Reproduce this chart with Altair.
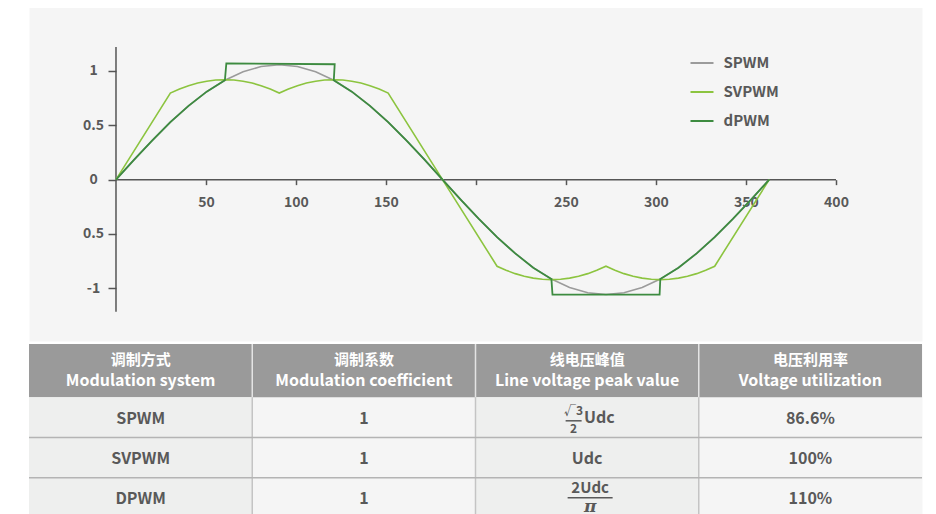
import altair as alt
import pandas as pd

FONT = "Noto Sans CJK SC"
TXT = "#595959"

# ---------------- waveform data ----------------
SERIES = ["SPWM", "SVPWM", "dPWM"]
SERIES_COLORS = ["#9b9b9b", "#8cc43f", "#3d8b40"]

SPWM_X = [0.0, 10.1, 20.2, 30.2, 40.3, 50.4, 60.5, 70.6, 80.6, 90.7, 100.8, 110.9,
          121.0, 131.0, 141.1, 151.2, 161.3, 171.4, 181.4, 191.5, 201.6, 211.7,
          221.8, 231.8, 241.9, 252.0, 262.1, 272.2, 282.2, 292.3, 302.4, 312.5,
          322.6, 332.6, 342.7, 352.8, 362.9]
SPWM_Y = [0.0, 0.184, 0.362, 0.529, 0.679, 0.810, 0.915, 0.993, 1.041, 1.057, 1.041, 0.993,
          0.915, 0.810, 0.679, 0.529, 0.362, 0.184, 0.0, -0.184, -0.362, -0.529,
          -0.679, -0.810, -0.915, -0.993, -1.041, -1.057, -1.041, -0.993, -0.915, -0.810,
          -0.679, -0.529, -0.362, -0.184, 0.0]

SVPWM_X = [0.0, 30.2, 35.3, 40.3, 45.4, 50.4, 55.4, 60.5, 65.5, 70.6, 75.6, 80.6, 85.7,
           90.7, 95.8, 100.8, 105.8, 110.9, 115.9, 121.0, 126.0, 131.0, 136.1, 141.1,
           146.2, 151.2, 181.4,
           211.7, 216.7, 221.8, 226.8, 231.8, 236.9, 241.9, 247.0, 252.0, 257.0, 262.1,
           267.1, 272.2, 277.2, 282.2, 287.3, 292.3, 297.4, 302.4, 307.4, 312.5, 317.5,
           322.6, 327.6, 332.6, 362.9]
SVPWM_Y = [0.0, 0.797, 0.834, 0.865, 0.889, 0.906, 0.917, 0.920, 0.917, 0.906, 0.889, 0.865, 0.834,
           0.797, 0.834, 0.865, 0.889, 0.906, 0.917, 0.920, 0.917, 0.906, 0.889, 0.865,
           0.834, 0.797, 0.0,
           -0.797, -0.834, -0.865, -0.889, -0.906, -0.917, -0.920, -0.917, -0.906, -0.889, -0.865,
           -0.834, -0.797, -0.834, -0.865, -0.889, -0.906, -0.917, -0.920, -0.917, -0.906, -0.889,
           -0.865, -0.834, -0.797, 0.0]

DPWM_X = [0.0, 10.1, 20.2, 30.2, 40.3, 50.4, 60.5, 61.3, 121.5, 121.0, 131.0, 141.1,
          151.2, 161.3, 171.4, 181.4, 191.5, 201.6, 211.7, 221.8, 231.8, 241.9,
          242.5, 302.0, 302.4, 312.5, 322.6, 332.6, 342.7, 352.8, 362.9]
DPWM_Y = [0.0, 0.184, 0.362, 0.529, 0.679, 0.810, 0.915, 1.070, 1.062, 0.915, 0.810, 0.679,
          0.529, 0.362, 0.184, 0.0, -0.184, -0.362, -0.529, -0.679, -0.810, -0.915,
          -1.059, -1.059, -0.915, -0.810, -0.679, -0.529, -0.362, -0.184, 0.0]

X_TICKS = [50, 100, 150, 200, 250, 300, 350, 400]
X_TICK_LABELS = ["50", "100", "150", "", "250", "300", "350", "400"]
Y_TICKS = [-1, -0.5, 0, 0.5, 1]
Y_TICK_LABELS = ["-1", "0.5", "0", "0.5", "1"]

# ---------------- table data ----------------
HEAD_CN = ["调制方式", "调制系数", "线电压峰值", "电压利用率"]
HEAD_EN = ["Modulation system", "Modulation coefficient", "Line voltage peak value", "Voltage utilization"]
ROW_METHOD = ["SPWM", "SVPWM", "DPWM"]
ROW_COEF = ["1", "1", "1"]
ROW_PEAK_PLAIN = ["", "Udc", ""]
ROW_UTIL = ["86.6%", "100%", "110%"]
FRAC1 = {"num": "√3", "den": "2", "tail": "Udc"}
FRAC3 = {"num": "2Udc", "den": "π"}


def label_expr(values, labels):
    expr = "''"
    for v, lab in zip(values, labels):
        expr = f"datum.value == {v} ? '{lab}' : ({expr})"
    return expr


# ---------------- build frames ----------------
recs = []
for name, xs, ys in zip(SERIES, [SPWM_X, SVPWM_X, DPWM_X], [SPWM_Y, SVPWM_Y, DPWM_Y]):
    for i, (xv, yv) in enumerate(zip(xs, ys)):
        recs.append({"series": name, "x": xv, "y": yv, "i": i})
wave = pd.DataFrame(recs)

xscale = alt.Scale(domain=[-48.33, 447.78], nice=False, zero=False)
yscale = alt.Scale(domain=[-1.485, 1.589], nice=False, zero=False)

xaxis = alt.Axis(values=X_TICKS, title=None, grid=False, domain=False, offset=-161.35,
                 tickSize=5, tickWidth=1.5, tickColor="#555555",
                 labelExpr=label_expr(X_TICKS, X_TICK_LABELS),
                 labelFont=FONT, labelFontSize=14, labelFontWeight="bold", labelColor=TXT,
                 labelPadding=11)
yaxis = alt.Axis(values=Y_TICKS, title=None, grid=False, domain=False, offset=-87,
                 tickSize=8, tickWidth=1.5, tickColor="#555555",
                 labelExpr=label_expr(Y_TICKS, Y_TICK_LABELS),
                 labelAlign="center", labelBaseline="middle", labelPadding=15,
                 labelFont=FONT, labelFontSize=14, labelFontWeight="bold", labelColor=TXT)

legend = alt.Legend(orient="none", legendX=660.5, legendY=43.5, symbolType="stroke",
                    symbolSize=529, symbolStrokeWidth=2, labelFont=FONT, labelFontSize=15,
                    labelFontWeight="bold", labelColor=TXT, labelOffset=9, rowPadding=8,
                    padding=0)

base = alt.Chart(wave).encode(
    x=alt.X("x:Q", scale=xscale, axis=xaxis),
    y=alt.Y("y:Q", scale=yscale, axis=yaxis),
    color=alt.Color("series:N", scale=alt.Scale(domain=SERIES, range=SERIES_COLORS),
                    legend=legend, title=None),
    order="i:Q",
)
line_layers = [
    base.mark_line(strokeWidth=w).transform_filter(alt.datum.series == s)
    for s, w in zip(SERIES, [1.6, 1.6, 1.8])
]

xline = alt.Chart(pd.DataFrame({"x": [0], "x2": [400], "y": [0]})).mark_rule(
    color="#555555", strokeWidth=1.5).encode(
    x=alt.X("x:Q", scale=xscale, axis=xaxis), x2="x2:Q",
    y=alt.Y("y:Q", scale=yscale, axis=yaxis))
yline = alt.Chart(pd.DataFrame({"x": [0], "y": [-1.215], "y2": [1.221]})).mark_rule(
    color="#555555", strokeWidth=1.5).encode(
    x=alt.X("x:Q", scale=xscale, axis=xaxis),
    y=alt.Y("y:Q", scale=yscale, axis=yaxis), y2="y2:Q")

top = alt.layer(xline, yline, *line_layers).properties(width=893, height=334)

# ---------------- table ----------------
HEAD_H = 1.32
tx = alt.Scale(domain=[0, 4], nice=False, zero=False)
ty = alt.Scale(domain=[0, 4.32], nice=False, zero=False, reverse=True)

head = pd.DataFrame({"l": [0, 1, 2, 3], "r": [1, 2, 3, 4], "t": [0] * 4, "b": [HEAD_H] * 4,
                     "cx": [0.5, 1.5, 2.5, 3.5], "cy": [HEAD_H / 2] * 4,
                     "cn": HEAD_CN, "en": HEAD_EN})
body_recs = []
for r in range(3):
    for c, txt in enumerate([ROW_METHOD[r], ROW_COEF[r], ROW_PEAK_PLAIN[r], ROW_UTIL[r]]):
        body_recs.append({"cx": c + 0.5, "cy": HEAD_H + r + 0.5, "txt": txt})
body = pd.DataFrame(body_recs)


def X(f):
    return alt.X(f, scale=tx, axis=None)


def Y(f):
    return alt.Y(f, scale=ty, axis=None)


head_rect = alt.Chart(head).mark_rect(color="#9a9a9a").encode(
    x=X("l:Q"), x2="r:Q", y=Y("t:Q"), y2="b:Q")
shade = alt.Chart(pd.DataFrame({"l": [0, 2], "r": [1, 3], "t": [HEAD_H] * 2, "b": [HEAD_H + 3] * 2})
                  ).mark_rect(color="#eeefee").encode(x=X("l:Q"), x2="r:Q", y=Y("t:Q"), y2="b:Q")

vsep_head = alt.Chart(pd.DataFrame({"x": [1, 2, 3], "t": [0] * 3, "b": [HEAD_H] * 3})).mark_rule(
    color="#e4e4e4", strokeWidth=1.5).encode(x=X("x:Q"), y=Y("t:Q"), y2="b:Q")
vsep_body = alt.Chart(pd.DataFrame({"x": [1, 2, 3], "t": [HEAD_H] * 3, "b": [HEAD_H + 3] * 3})).mark_rule(
    color="#c4c4c4", strokeWidth=1.5).encode(x=X("x:Q"), y=Y("t:Q"), y2="b:Q")
hsep = alt.Chart(pd.DataFrame({"l": [0, 0], "r": [4, 4], "y": [HEAD_H + 1, HEAD_H + 2]})).mark_rule(
    color="#b4b4b4", strokeWidth=1.5).encode(x=X("l:Q"), x2="r:Q", y=Y("y:Q"))

head_cn = alt.Chart(head).mark_text(font=FONT, fontSize=15, fontWeight="bold", color="white",
                                    baseline="middle", dy=-10.5).encode(
    x=X("cx:Q"), y=Y("cy:Q"), text="cn:N")
head_en = alt.Chart(head).mark_text(font=FONT, fontSize=16, fontWeight="bold", color="white",
                                    baseline="middle", dy=10.5).encode(
    x=X("cx:Q"), y=Y("cy:Q"), text="en:N")
body_txt = alt.Chart(body).mark_text(font=FONT, fontSize=16, fontWeight="bold", color=TXT,
                                     baseline="middle", dy=1.5).encode(
    x=X("cx:Q"), y=Y("cy:Q"), text="txt:N")

f1 = pd.DataFrame({"cx": [2.5], "cy": [HEAD_H + 0.5], "num": [FRAC1["num"]],
                   "den": [FRAC1["den"]], "tail": [FRAC1["tail"]]})
f1_num = alt.Chart(f1).mark_text(font=FONT, fontSize=12, fontWeight="bold", color=TXT,
                                 baseline="middle", dx=-13.5, dy=-6).encode(
    x=X("cx:Q"), y=Y("cy:Q"), text="num:N")
f1_den = alt.Chart(f1).mark_text(font=FONT, fontSize=12, fontWeight="bold", color=TXT,
                                 baseline="middle", dx=-13.5, dy=11.5).encode(
    x=X("cx:Q"), y=Y("cy:Q"), text="den:N")
f1_bar = alt.Chart(f1).mark_rule(color=TXT, strokeWidth=1.5, xOffset=-21.5, x2Offset=-5.5,
                                 yOffset=3.5).encode(x=X("cx:Q"), x2="cx:Q", y=Y("cy:Q"))
f1_tail = alt.Chart(f1).mark_text(font=FONT, fontSize=16, fontWeight="bold", color=TXT,
                                  baseline="middle", align="left", dx=-3.2, dy=1).encode(
    x=X("cx:Q"), y=Y("cy:Q"), text="tail:N")

f3 = pd.DataFrame({"cx": [2.5], "cy": [HEAD_H + 2.5], "num": [FRAC3["num"]], "den": [FRAC3["den"]]})
f3_num = alt.Chart(f3).mark_text(font=FONT, fontSize=15, fontWeight="bold", color=TXT,
                                 baseline="middle", dx=3, dy=-9.5).encode(
    x=X("cx:Q"), y=Y("cy:Q"), text="num:N")
f3_den = alt.Chart(f3).mark_text(font="DejaVu Serif", fontSize=17, fontStyle="italic",
                                 fontWeight="bold", color=TXT,
                                 baseline="middle", dx=3, dy=9.5).encode(
    x=X("cx:Q"), y=Y("cy:Q"), text="den:N")
f3_bar = alt.Chart(f3).mark_rule(color=TXT, strokeWidth=1.5, xOffset=-19.5, x2Offset=25.5,
                                 yOffset=0).encode(x=X("cx:Q"), x2="cx:Q", y=Y("cy:Q"))

table = alt.layer(head_rect, shade, vsep_head, vsep_body, hsep, head_cn, head_en, body_txt,
                  f1_num, f1_den, f1_bar, f1_tail, f3_num, f3_den, f3_bar
                  ).properties(width=893, height=174)

chart = alt.vconcat(top, table, spacing=0).properties(
    padding={"left": 19, "top": -2, "right": 0, "bottom": 0},
    background="white",
).configure_view(stroke="transparent", fill="#f5f5f5")

chart.save("out.html", embed_options={"renderer": "svg", "actions": False})
